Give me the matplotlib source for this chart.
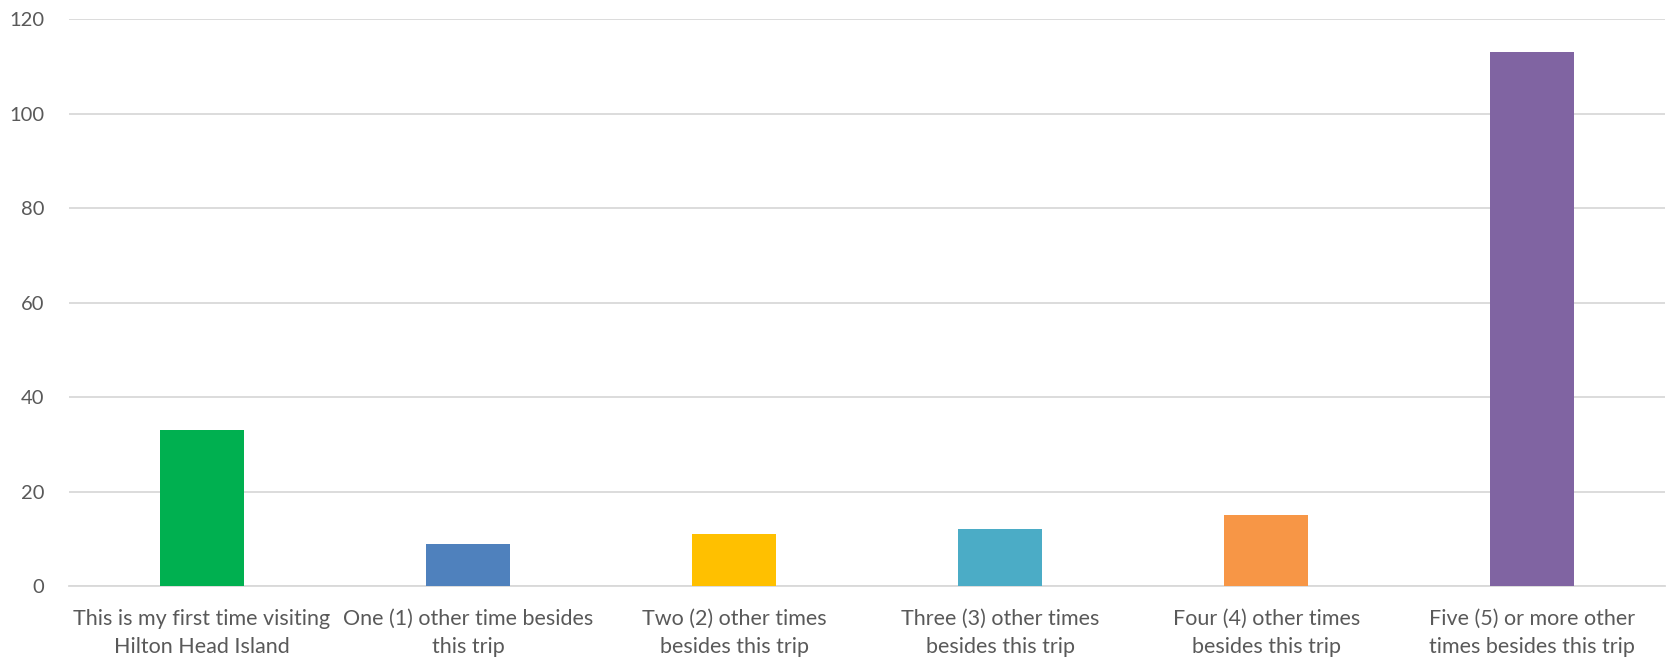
import matplotlib.pyplot as plt
import numpy as np

# survey answers: how many times visited before this trip
categories = [
    "This is my first time visiting\nHilton Head Island",
    "One (1) other time besides\nthis trip",
    "Two (2) other times\nbesides this trip",
    "Three (3) other times\nbesides this trip",
    "Four (4) other times\nbesides this trip",
    "Five (5) or more other\ntimes besides this trip",
]
counts = [33, 9, 11, 12, 15, 113]
bar_colors = ["#00B050", "#4F81BD", "#FFC000", "#4BACC6", "#F79646", "#8064A2"]
yticks = [0, 20, 40, 60, 80, 100, 120]

plt.rcParams['font.family'] = ['Lato', 'DejaVu Sans']
text_color = "#595959"
grid_color = "#D9D9D9"

fig = plt.figure(figsize=(16.67, 6.6), dpi=100)
ax = fig.add_axes([0.0414, 0.112, 0.9575, 0.859])

x = np.arange(len(categories))
ax.bar(x, counts, width=0.315, color=bar_colors, zorder=3)

ax.set_xlim(-0.5, len(categories) - 0.5)
ax.set_ylim(0, 120)
ax.set_yticks(yticks)
ax.set_xticks(x)
ax.set_xticklabels(categories, fontsize=15.5, color=text_color, linespacing=1.5)
ax.tick_params(axis='y', labelsize=14.5, labelcolor=text_color, length=0, pad=18)
ax.tick_params(axis='x', length=0, pad=16.5)

ax.grid(axis='y', color=grid_color, linewidth=1.3, zorder=0)
for side in ["top", "right", "left"]:
    ax.spines[side].set_visible(False)
ax.spines["bottom"].set_color(grid_color)
ax.spines["bottom"].set_linewidth(1.3)

plt.savefig("out.png", dpi=100)
